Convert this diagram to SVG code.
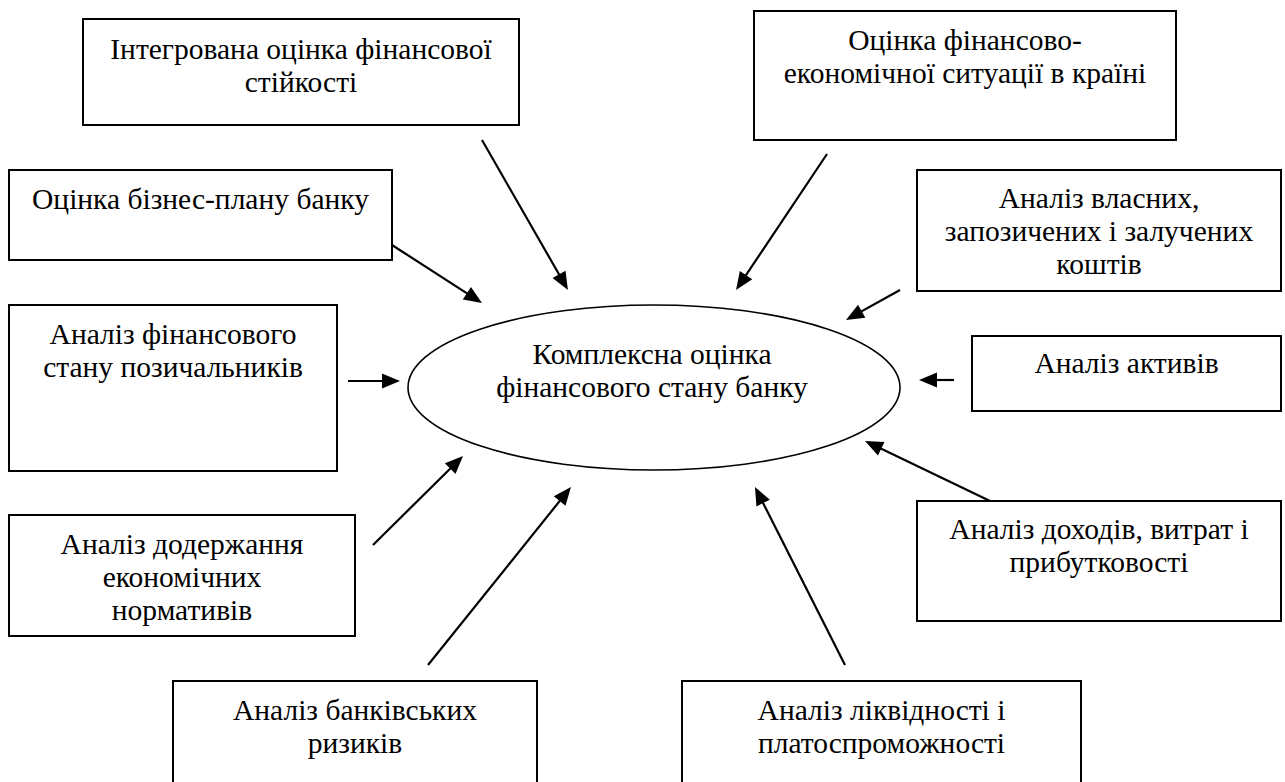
<svg xmlns="http://www.w3.org/2000/svg" width="1285" height="782" viewBox="0 0 1285 782">
<style>
  .box { fill: #ffffff; stroke: #000000; stroke-width: 2; }
  .ell { fill: #ffffff; stroke: #000000; stroke-width: 1.6; }
  .t { font-family: 'Liberation Serif', 'Times New Roman', 'DejaVu Serif', serif; font-size: 29.5px; fill: #000000; text-anchor: middle; }
  .arr { stroke: #000000; stroke-width: 2.2; fill: none; marker-end: url(#ah); }
</style>
<defs>
  <marker id="ah" markerUnits="userSpaceOnUse" markerWidth="18" markerHeight="15" refX="8" refY="7.5" orient="auto" overflow="visible">
    <path d="M0,0 L18,7.5 L0,15 z" fill="#000000"/>
  </marker>
</defs>
<rect width="1285" height="782" fill="#ffffff"/>

<g id="connectors">
  <line class="arr" x1="482" y1="140" x2="563" y2="281.3"/>
  <line class="arr" x1="392" y1="245" x2="473.6" y2="297.6"/>
  <line class="arr" x1="827" y1="154" x2="741.6" y2="281.7"/>
  <line class="arr" x1="900" y1="290" x2="854.7" y2="315.1"/>
  <line class="arr" x1="348" y1="381" x2="390" y2="381"/>
  <line class="arr" x1="954" y1="380" x2="929" y2="380"/>
  <line class="arr" x1="990" y1="501" x2="874" y2="445.3"/>
  <line class="arr" x1="845" y1="665" x2="759.5" y2="495.9"/>
  <line class="arr" x1="428" y1="665" x2="564.7" y2="494.8"/>
  <line class="arr" x1="373" y1="545" x2="455.9" y2="463"/>
</g>

<g id="center">
  <ellipse class="ell" cx="654" cy="387.5" rx="246" ry="82.5"/>
  <text class="t" x="652" y="364">Комплексна оцінка</text>
  <text class="t" x="652" y="397">фінансового стану банку</text>
</g>

<g id="n-integr">
  <rect class="box" x="83" y="19" width="436" height="106"/>
  <text class="t" x="301" y="59">Інтегрована оцінка фінансової</text>
  <text class="t" x="301" y="92">стійкості</text>
</g>

<g id="n-econ">
  <rect class="box" x="754" y="11" width="422" height="129"/>
  <text class="t" x="965" y="50">Оцінка фінансово-</text>
  <text class="t" x="965" y="83">економічної ситуації в країні</text>
</g>

<g id="n-biz">
  <rect class="box" x="9" y="170" width="383" height="90"/>
  <text class="t" x="200.5" y="209">Оцінка бізнес-плану банку</text>
</g>

<g id="n-own">
  <rect class="box" x="917" y="170" width="364" height="121"/>
  <text class="t" x="1099" y="208">Аналіз власних,</text>
  <text class="t" x="1099" y="241">запозичених і залучених</text>
  <text class="t" x="1099" y="274">коштів</text>
</g>

<g id="n-borrow">
  <rect class="box" x="9" y="305" width="328" height="166"/>
  <text class="t" x="173" y="344">Аналіз фінансового</text>
  <text class="t" x="173" y="377">стану позичальників</text>
</g>

<g id="n-assets">
  <rect class="box" x="972" y="336" width="309" height="75"/>
  <text class="t" x="1126.5" y="373">Аналіз активів</text>
</g>

<g id="n-norms">
  <rect class="box" x="9" y="515" width="346" height="121"/>
  <text class="t" x="182" y="554">Аналіз додержання</text>
  <text class="t" x="182" y="587">економічних</text>
  <text class="t" x="182" y="620">нормативів</text>
</g>

<g id="n-income">
  <rect class="box" x="917" y="501" width="364" height="120"/>
  <text class="t" x="1099" y="539">Аналіз доходів, витрат і</text>
  <text class="t" x="1099" y="572">прибутковості</text>
</g>

<g id="n-risks">
  <rect class="box" x="173" y="681" width="364" height="120"/>
  <text class="t" x="355" y="720">Аналіз банківських</text>
  <text class="t" x="355" y="753">ризиків</text>
</g>

<g id="n-liquid">
  <rect class="box" x="682" y="681" width="399" height="120"/>
  <text class="t" x="881.5" y="720">Аналіз ліквідності і</text>
  <text class="t" x="881.5" y="753">платоспроможності</text>
</g>
</svg>
